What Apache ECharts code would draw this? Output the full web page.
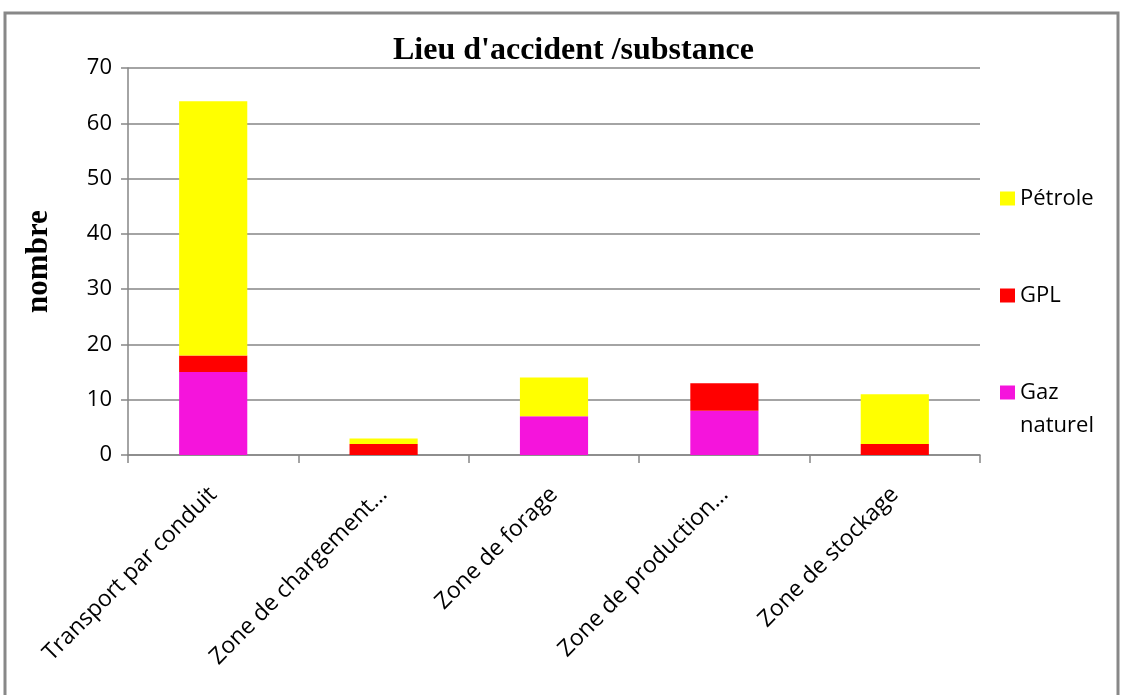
<!DOCTYPE html>
<html><head><meta charset="utf-8">
<script src="https://cdn.jsdelivr.net/npm/echarts@6/dist/echarts.min.js"></script>
<style>html,body{margin:0;padding:0;background:#fff}#c{width:1123px;height:695px}</style>
</head><body><div id="c"></div>
<script>
var categories = ['Transport par conduit', 'Zone de chargement…', 'Zone de forage', 'Zone de production…', 'Zone de stockage'];
var gazNaturel = [15, 0, 7, 8, 0];
var gpl = [3, 2, 0, 5, 2];
var petrole = [46, 1, 7, 0, 9];
var yTicks = [0, 10, 20, 30, 40, 50, 60, 70];

var chart = echarts.init(document.getElementById('c'));
var txtFont = '"Open Sans", sans-serif';
var legendBase = {orient: 'vertical', left: 995, icon: 'rect', itemWidth: 15, itemHeight: 14,
  textStyle: {fontFamily: txtFont, fontSize: 22, color: '#000', lineHeight: 33}, selectedMode: false};
chart.setOption({
  animation: false,
  title: {text: "Lieu d'accident /substance", left: 388, top: 30,
    textStyle: {fontFamily: '"Liberation Serif", serif', fontWeight: 'bold', fontSize: 32, color: '#000'}},
  graphic: [{type: 'rect', shape: {x: 5, y: 13, width: 1113, height: 700}, style: {fill: 'none', stroke: '#888', lineWidth: 3}}],
  legend: [
    Object.assign({}, legendBase, {data: ['Pétrole'], top: 177}),
    Object.assign({}, legendBase, {data: ['GPL'], top: 274}),
    Object.assign({}, legendBase, {data: ['Gaz naturel'], top: 338, formatter: function(){return '\u00a0\nGaz\nnaturel';}})
  ],
  grid: {left: 128, right: 143, top: 68, bottom: 240},
  xAxis: {type: 'category', data: categories,
    axisLine: {lineStyle: {color: '#868686', width: 1.5}},
    axisTick: {show: true, length: 8, lineStyle: {color: '#868686', width: 1.5}},
    axisLabel: {rotate: 45, interval: 0, fontFamily: txtFont, fontSize: 23, color: '#000', margin: 36}},
  yAxis: {type: 'value', min: 0, max: 70, interval: 10,
    name: 'nombre', nameLocation: 'middle', nameGap: 74,
    nameTextStyle: {fontFamily: '"Liberation Serif", serif', fontWeight: 'bold', fontSize: 31, color: '#000'},
    axisLine: {show: true, lineStyle: {color: '#868686', width: 1.5}},
    axisTick: {show: true, length: 7, lineStyle: {color: '#868686', width: 1.5}},
    splitLine: {lineStyle: {color: '#868686', width: 1.5}},
    axisLabel: {fontFamily: txtFont, fontSize: 22, color: '#000', margin: 16,
      formatter: function(v){ return yTicks.indexOf(v) >= 0 ? String(v) : ''; }}},
  series: [
    {name: 'Gaz naturel', type: 'bar', stack: 's', data: gazNaturel, barWidth: '40%', itemStyle: {color: '#F514DC'}},
    {name: 'GPL', type: 'bar', stack: 's', data: gpl, itemStyle: {color: '#FF0000'}},
    {name: 'Pétrole', type: 'bar', stack: 's', data: petrole, itemStyle: {color: '#FFFF00'}}
  ]
});
</script></body></html>
